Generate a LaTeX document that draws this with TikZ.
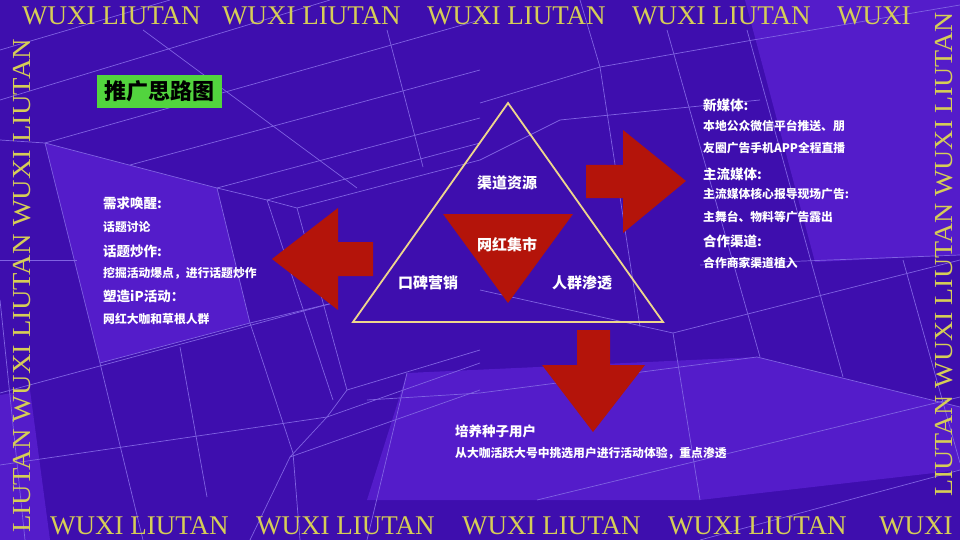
\documentclass[tikz,border=0pt]{standalone}
\usepackage{fontspec}
\setmainfont{Liberation Serif}
\newfontfamily\cjk{Noto Sans CJK SC}
\definecolor{bgC}{RGB}{62,14,174}
\definecolor{panelC}{RGB}{84,28,202}
\definecolor{lineC}{RGB}{128,98,226}
\definecolor{goldC}{RGB}{214,206,86}
\definecolor{triC}{RGB}{238,214,140}
\definecolor{redC}{RGB}{180,20,10}
\definecolor{greenC}{RGB}{82,212,62}
\begin{document}
\begin{tikzpicture}[x=1pt,y=-1pt,
  bgline/.style={draw=lineC, line width=0.7pt},
  panel/.style={fill=panelC, draw=none},
  redshape/.style={fill=redC, draw=none},
  brand/.style={text=goldC, inner sep=0pt, font=\fontsize{27}{30}\selectfont},
  vbrand/.style={text=goldC, inner sep=0pt, rotate=90, anchor=base west, font=\fontsize{26}{30}\selectfont},
  head/.style={text=white, anchor=west, inner sep=0pt, font=\cjk\bfseries\fontsize{13.5}{15}\selectfont},
  body/.style={text=white, anchor=west, inner sep=0pt, font=\cjk\bfseries\fontsize{11.8}{13}\selectfont},
  trilabel/.style={text=white, inner sep=0pt, font=\cjk\bfseries\fontsize{15}{17}\selectfont}]

\useasboundingbox (0,0) rectangle (960,540);
\fill[bgC] (0,0) rectangle (960,540);

\begin{scope}
\clip (0,0) rectangle (960,540);
% lighter panels
\fill[panel] (45,143) -- (217,188) -- (250,323) -- (100,363) -- cycle;
\fill[panel] (0,395) -- (30,390) -- (50,540) -- (0,540) -- cycle;
\fill[panel] (745,0) -- (960,0) -- (960,255) -- (815,262) -- cycle;
\fill[panel] (367,500) -- (407,373) -- (757,357) -- (960,407) -- (960,470) -- (700,500) -- cycle;

% background grid lines
\draw[bgline] (0,50) -- (170,0);
\draw[bgline] (0,100) -- (330,0);
\draw[bgline] (45,143) -- (480,20);
\draw[bgline] (130,165) -- (480,70);
\draw[bgline] (217,188) -- (480,118);
\draw[bgline] (267,200) -- (480,143);
\draw[bgline] (297,208) -- (480,160);
\draw[bgline] (143,30) -- (357,188);
\draw[bgline] (387,30) -- (423,167);
\draw[bgline] (45,143) -- (100,363);
\draw[bgline] (45,143) -- (217,188) -- (267,200) -- (297,208);
\draw[bgline] (217,188) -- (250,323);
\draw[bgline] (100,363) -- (250,323) -- (333,303);
\draw[bgline] (267,200) -- (333,400);
\draw[bgline] (297,208) -- (347,390);
\draw[bgline] (0,260) -- (77,260);
\draw[bgline] (0,140) -- (45,143);
\draw[bgline] (0,393) -- (333,303);
\draw[bgline] (100,363) -- (143,540);
\draw[bgline] (180,347) -- (207,497);
\draw[bgline] (250,323) -- (293,453) -- (300,540);
\draw[bgline] (347,390) -- (480,350);
\draw[bgline] (327,417) -- (480,363);
\draw[bgline] (290,457) -- (480,390);
\draw[bgline] (347,390) -- (327,417) -- (290,457) -- (250,540);
\draw[bgline] (0,465) -- (327,417);
\draw[bgline] (0,300) -- (25,540);
\draw[bgline] (480,103) -- (600,67) -- (753,40) -- (960,5);
\draw[bgline] (600,67) -- (640,327);
\draw[bgline] (667,30) -- (760,357);
\draw[bgline] (747,30) -- (843,377);
\draw[bgline] (903,260) -- (960,463);
\draw[bgline] (367,400) -- (480,393) -- (757,357) -- (960,407);
\draw[bgline] (673,333) -- (960,260);
\draw[bgline] (700,265) -- (960,255);
\draw[bgline] (537,500) -- (960,397);
\draw[bgline] (480,160) -- (560,120) -- (760,100);
\draw[bgline] (407,373) -- (367,540);
\draw[bgline] (480,290) -- (673,333) -- (700,500);
\draw[bgline] (580,0) -- (600,67);
\draw[bgline] (700,540) -- (960,470);
\end{scope}

% border text
\node[brand, anchor=base west] (t1) at (22,25) {WUXI LIUTAN};
\node[brand, anchor=base west] (t2) at (222,25) {WUXI LIUTAN};
\node[brand, anchor=base west] (t3) at (427,25) {WUXI LIUTAN};
\node[brand, anchor=base west] (t4) at (632,25) {WUXI LIUTAN};
\node[brand, anchor=base west] (t5) at (837,25) {WUXI};
\node[brand, anchor=base west] (b1) at (50,534) {WUXI LIUTAN};
\node[brand, anchor=base west] (b2) at (256,534) {WUXI LIUTAN};
\node[brand, anchor=base west] (b3) at (462,534) {WUXI LIUTAN};
\node[brand, anchor=base west] (b4) at (668,534) {WUXI LIUTAN};
\node[brand, anchor=base west] (b5) at (879,534) {WUXI};
\node[vbrand] (lcol) at (30,533) {\scalebox{1.094}[1]{LIUTAN WUXI LIUTAN WUXI LIUTAN}};
\node[vbrand] (rcol) at (952,497) {\scalebox{1.074}[1]{LIUTAN WUXI LIUTAN WUXI LIUTAN}};

% title
\node[fill=greenC, minimum width=125pt, minimum height=33pt, inner sep=0pt,
      font=\cjk\bfseries\fontsize{22}{24}\selectfont, text=black] (title) at (159.5,91.5) {推广思路图};

% arrows
\fill[redshape] (373,242) -- (338,242) -- (338,208) -- (272,259) -- (338,310) -- (338,276) -- (373,276) -- cycle;
\fill[redshape] (586,165) -- (623,165) -- (623,130) -- (686,181) -- (623,233) -- (623,198) -- (586,198) -- cycle;
\fill[redshape] (577,330) -- (610,330) -- (610,365) -- (645,365) -- (593,432) -- (542,365) -- (577,365) -- cycle;

% triangles
\coordinate (apex) at (508,103);
\coordinate (bl) at (353,322);
\coordinate (br) at (663,322);
\draw[triC, line width=1.8pt, line join=miter] (apex) -- (bl) -- (br) -- cycle;
\fill[redshape] (443,214) -- (573,214) -- (508,303) -- cycle;

\node[trilabel] (channel) at (507,183) {渠道资源};
\node[trilabel] (market) at (507,245) {网红集市};
\node[trilabel] (word) at (428,283) {口碑营销};
\node[trilabel] (crowd) at (582,283) {人群渗透};

% left texts
\node[head] (l1) at (103,203) {需求唤醒:};
\node[body] (l2) at (103,227) {话题讨论};
\node[head] (l3) at (103,251) {话题炒作:};
\node[body] (l4) at (103,273) {挖掘活动爆点，进行话题炒作};
\node[head] (l5) at (103,296) {塑造iP活动：};
\node[body] (l6) at (103,319) {网红大咖和草根人群};

% right texts
\node[head] (r1) at (703,105) {新媒体:};
\node[body] (r2) at (703,126) {本地公众微信平台推送、朋};
\node[body] (r3) at (703,148) {友圈广告手机APP全程直播};
\node[head] (r4) at (703,174) {主流媒体:};
\node[body] (r5) at (703,194) {主流媒体核心报导现场广告:};
\node[body] (r6) at (703,217) {主舞台、物料等广告露出};
\node[head] (r7) at (703,241) {合作渠道:};
\node[body] (r8) at (703,263) {合作商家渠道植入};

% bottom texts
\node[head] (d1) at (455,431) {培养种子用户};
\node[body] (d2) at (455,453) {从大咖活跃大号中挑选用户进行活动体验，重点渗透};
\end{tikzpicture}
\end{document}
